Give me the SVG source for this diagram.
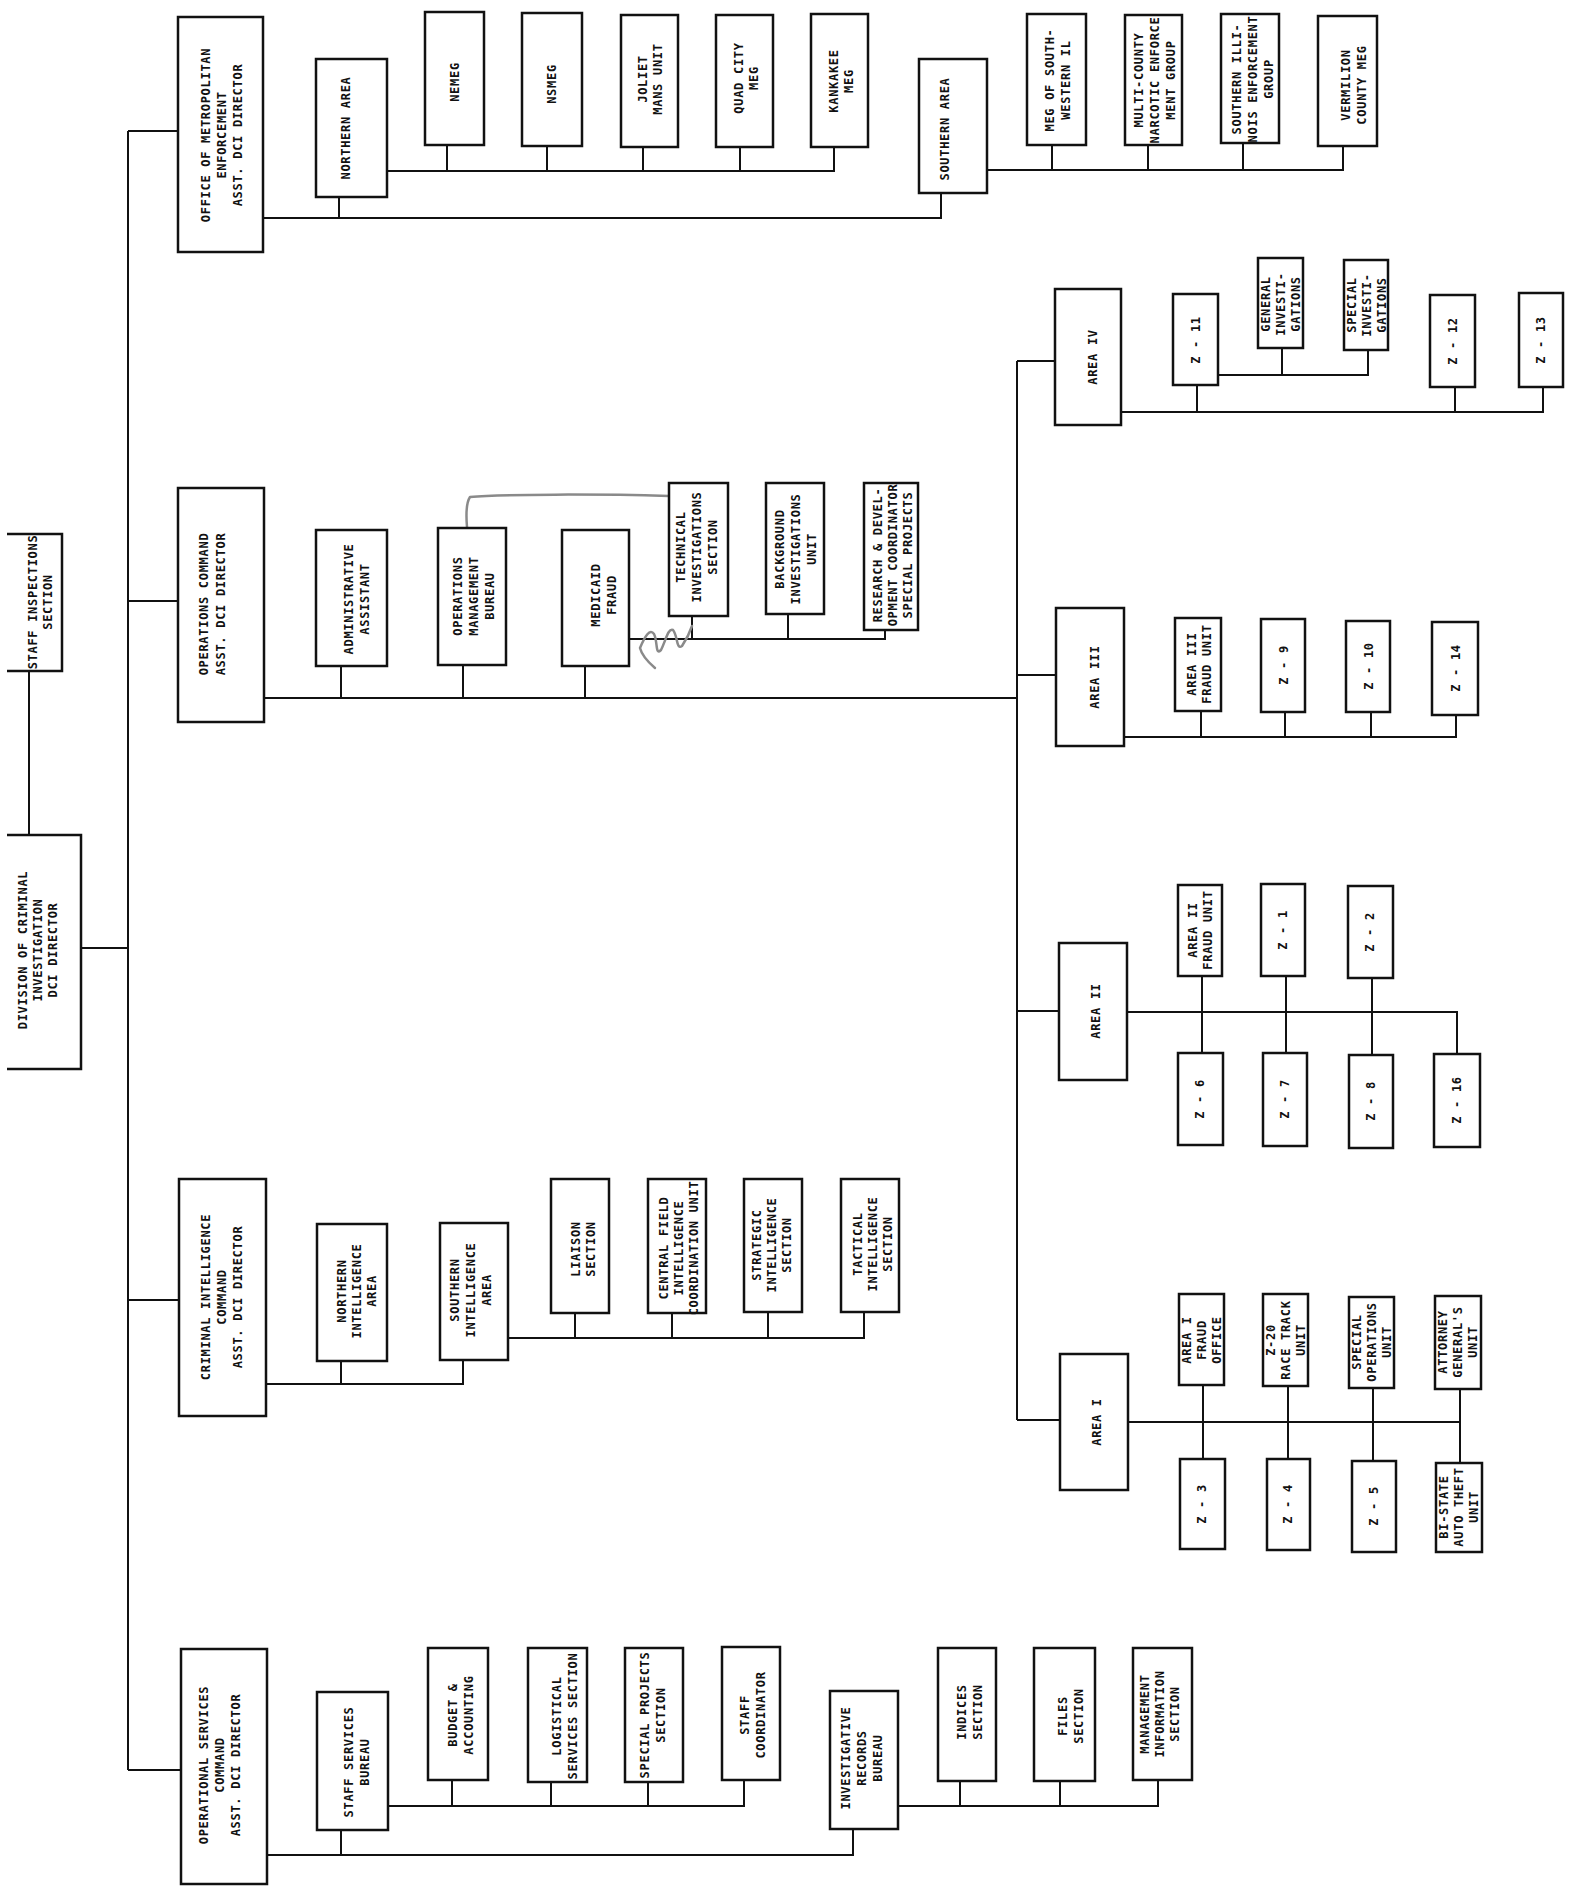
<svg xmlns="http://www.w3.org/2000/svg" width="1575" height="1892" viewBox="0 0 1575 1892">
<style>
.b{fill:#fff;stroke:#111;stroke-width:2.5}
.o{fill:none;stroke:#111;stroke-width:2.5}
.c{fill:none;stroke:#111;stroke-width:2}
.g{fill:none;stroke:#8a8a8a;stroke-width:2.5;stroke-linecap:round;stroke-linejoin:round}
.t{font-family:"DejaVu Sans Mono","Liberation Mono",monospace;font-size:12px;font-weight:bold;letter-spacing:0.7px;text-anchor:middle;fill:#111}
</style>
<rect x="0" y="0" width="1575" height="1892" fill="#fff"/>

<g id="connectors">
<path class="c" d="M128,131 V1770 M128,131 H178 M128,601 H178 M128,1300 H179 M128,1770 H181 M81,948 H128 M29,671 V835"/>
<path class="c" d="M263,218 H941 V193 M339,218 V197"/>
<path class="c" d="M387,171 H834 V147 M447,171 V145 M547,171 V146 M643,171 V147 M740,171 V147"/>
<path class="c" d="M987,170 H1343 V146 M1052,170 V145 M1148,170 V145 M1243,170 V143"/>
<path class="c" d="M264,698 H1017 M341,698 V666 M463,698 V665 M585,698 V666"/>
<path class="c" d="M629,639 H885 V630 M692,639 V616 M788,639 V614"/>
<path class="c" d="M1017,361 V1420 M1017,361 H1055 M1017,675 H1056 M1017,1011 H1059 M1017,1420 H1060"/>
<path class="c" d="M1218,375 H1368 V350 M1282,375 V348"/>
<path class="c" d="M1121,412 H1543 V387 M1197,412 V385 M1455,412 V387"/>
<path class="c" d="M1124,737 H1456 V715 M1201,737 V711 M1285,737 V712 M1371,737 V712"/>
<path class="c" d="M1127,1012 H1457 V1054 M1202,976 V1053 M1286,976 V1053 M1372,978 V1055"/>
<path class="c" d="M1128,1422 H1460 M1203,1385 V1459 M1288,1386 V1459 M1373,1388 V1461 M1460,1389 V1463"/>
<path class="c" d="M266,1384 H463 V1360 M341,1384 V1361"/>
<path class="c" d="M508,1338 H864 V1312 M575,1338 V1313 M672,1338 V1313 M768,1338 V1312"/>
<path class="c" d="M267,1855 H853 V1829 M341,1855 V1830"/>
<path class="c" d="M388,1806 H744 V1780 M452,1806 V1780 M551,1806 V1782 M648,1806 V1782"/>
<path class="c" d="M898,1806 H1158 V1780 M960,1806 V1781 M1060,1806 V1781"/>
<path class="g" d="M467,527 C466,515 466,503 470,497 C500,494 600,494 669,496"/>
<path class="g" d="M655,668 C648,662 642,656 640,648 C645,636 650,628 654,634 C658,642 655,656 661,650 C666,640 668,628 673,630 C678,636 676,650 682,646 C686,640 690,632 692,626"/>
</g>

<g id="staff_inspections"><path class="o" d="M7,534 H62 V671 H7"/><text class="t" transform="translate(40,602) rotate(-90)"><tspan x="0" y="-3.1">STAFF INSPECTIONS</tspan><tspan x="0" y="11.9">SECTION</tspan></text></g>
<g id="division"><path class="o" d="M7,835 H81 V1069 H7"/><text class="t" transform="translate(38,950) rotate(-90)"><tspan x="0" y="-10.6">DIVISION OF CRIMINAL</tspan><tspan x="0" y="4.4">INVESTIGATION</tspan><tspan x="0" y="19.4">DCI DIRECTOR</tspan></text></g>

<g id="office_metro"><rect class="b" x="178" y="17" width="85" height="235"/><text class="t" transform="translate(222,135) rotate(-90)"><tspan x="0" y="-11.6">OFFICE OF METROPOLITAN</tspan><tspan x="0" y="4.4">ENFORCEMENT</tspan><tspan x="0" y="20.4">ASST. DCI DIRECTOR</tspan></text></g>
<g id="northern_area"><rect class="b" x="316" y="59" width="71" height="138"/><text class="t" transform="translate(346,128) rotate(-90)"><tspan x="0" y="4.4">NORTHERN AREA</tspan></text></g>
<g id="nemeg"><rect class="b" x="425" y="12" width="59" height="133"/><text class="t" transform="translate(455,82) rotate(-90)"><tspan x="0" y="4.4">NEMEG</tspan></text></g>
<g id="nsmeg"><rect class="b" x="522" y="13" width="60" height="133"/><text class="t" transform="translate(552,84) rotate(-90)"><tspan x="0" y="4.4">NSMEG</tspan></text></g>
<g id="joliet"><rect class="b" x="621" y="15" width="57" height="132"/><text class="t" transform="translate(650,79) rotate(-90)"><tspan x="0" y="-3.1">JOLIET</tspan><tspan x="0" y="11.9">MANS UNIT</tspan></text></g>
<g id="quad_city"><rect class="b" x="716" y="15" width="57" height="132"/><text class="t" transform="translate(746,78) rotate(-90)"><tspan x="0" y="-3.1">QUAD CITY</tspan><tspan x="0" y="11.9">MEG</tspan></text></g>
<g id="kankakee"><rect class="b" x="811" y="14" width="57" height="133"/><text class="t" transform="translate(841,81) rotate(-90)"><tspan x="0" y="-3.1">KANKAKEE</tspan><tspan x="0" y="11.9">MEG</tspan></text></g>
<g id="southern_area"><rect class="b" x="919" y="59" width="68" height="134"/><text class="t" transform="translate(945,129) rotate(-90)"><tspan x="0" y="4.4">SOUTHERN AREA</tspan></text></g>
<g id="meg_sw"><rect class="b" x="1027" y="14" width="59" height="131"/><text class="t" transform="translate(1058,80) rotate(-90)"><tspan x="0" y="-3.6">MEG OF SOUTH-</tspan><tspan x="0" y="12.4">WESTERN IL</tspan></text></g>
<g id="multi_county"><rect class="b" x="1125" y="15" width="57" height="130"/><text class="t" transform="translate(1155,80) rotate(-90)"><tspan x="0" y="-11.6">MULTI-COUNTY</tspan><tspan x="0" y="4.4">NARCOTIC ENFORCE</tspan><tspan x="0" y="20.4">MENT GROUP</tspan></text></g>
<g id="southern_illinois"><rect class="b" x="1221" y="14" width="58" height="129"/><text class="t" transform="translate(1253,79) rotate(-90)"><tspan x="0" y="-11.6">SOUTHERN ILLI-</tspan><tspan x="0" y="4.4">NOIS ENFORCEMENT</tspan><tspan x="0" y="20.4">GROUP</tspan></text></g>
<g id="vermilion"><rect class="b" x="1318" y="16" width="59" height="130"/><text class="t" transform="translate(1354,85) rotate(-90)"><tspan x="0" y="-3.6">VERMILION</tspan><tspan x="0" y="12.4">COUNTY MEG</tspan></text></g>

<g id="operations_command"><rect class="b" x="178" y="488" width="86" height="234"/><text class="t" transform="translate(212,604) rotate(-90)"><tspan x="0" y="-4.1">OPERATIONS COMMAND</tspan><tspan x="0" y="12.9">ASST. DCI DIRECTOR</tspan></text></g>
<g id="admin_assistant"><rect class="b" x="316" y="530" width="71" height="136"/><text class="t" transform="translate(357,599) rotate(-90)"><tspan x="0" y="-3.6">ADMINISTRATIVE</tspan><tspan x="0" y="12.4">ASSISTANT</tspan></text></g>
<g id="ops_mgmt"><rect class="b" x="438" y="528" width="68" height="137"/><text class="t" transform="translate(474,596) rotate(-90)"><tspan x="0" y="-11.6">OPERATIONS</tspan><tspan x="0" y="4.4">MANAGEMENT</tspan><tspan x="0" y="20.4">BUREAU</tspan></text></g>
<g id="medicaid"><rect class="b" x="562" y="530" width="67" height="136"/><text class="t" transform="translate(604,595) rotate(-90)"><tspan x="0" y="-3.6">MEDICAID</tspan><tspan x="0" y="12.4">FRAUD</tspan></text></g>
<g id="technical"><rect class="b" x="669" y="483" width="59" height="133"/><text class="t" transform="translate(697,547) rotate(-90)"><tspan x="0" y="-11.6">TECHNICAL</tspan><tspan x="0" y="4.4">INVESTIGATIONS</tspan><tspan x="0" y="20.4">SECTION</tspan></text></g>
<g id="background"><rect class="b" x="766" y="483" width="58" height="131"/><text class="t" transform="translate(796,549) rotate(-90)"><tspan x="0" y="-11.6">BACKGROUND</tspan><tspan x="0" y="4.4">INVESTIGATIONS</tspan><tspan x="0" y="20.4">UNIT</tspan></text></g>
<g id="research"><rect class="b" x="864" y="483" width="54" height="147"/><text class="t" transform="translate(893,555) rotate(-90)"><tspan x="0" y="-10.6">RESEARCH &amp; DEVEL-</tspan><tspan x="0" y="4.4">OPMENT COORDINATOR</tspan><tspan x="0" y="19.4">SPECIAL PROJECTS</tspan></text></g>

<g id="area_iv"><rect class="b" x="1055" y="289" width="66" height="136"/><text class="t" transform="translate(1093,357) rotate(-90)"><tspan x="0" y="4.4">AREA IV</tspan></text></g>
<g id="z11"><rect class="b" x="1173" y="294" width="45" height="91"/><text class="t" transform="translate(1196,340) rotate(-90)"><tspan x="0" y="4.4">Z - 11</tspan></text></g>
<g id="general_inv"><rect class="b" x="1258" y="258" width="45" height="90"/><text class="t" transform="translate(1281,304) rotate(-90)"><tspan x="0" y="-10.6">GENERAL</tspan><tspan x="0" y="4.4">INVESTI-</tspan><tspan x="0" y="19.4">GATIONS</tspan></text></g>
<g id="special_inv"><rect class="b" x="1344" y="260" width="44" height="90"/><text class="t" transform="translate(1367,305) rotate(-90)"><tspan x="0" y="-10.6">SPECIAL</tspan><tspan x="0" y="4.4">INVESTI-</tspan><tspan x="0" y="19.4">GATIONS</tspan></text></g>
<g id="z12"><rect class="b" x="1430" y="295" width="45" height="92"/><text class="t" transform="translate(1453,341) rotate(-90)"><tspan x="0" y="4.4">Z - 12</tspan></text></g>
<g id="z13"><rect class="b" x="1519" y="293" width="44" height="94"/><text class="t" transform="translate(1541,340) rotate(-90)"><tspan x="0" y="4.4">Z - 13</tspan></text></g>

<g id="area_iii"><rect class="b" x="1056" y="608" width="68" height="138"/><text class="t" transform="translate(1095,677) rotate(-90)"><tspan x="0" y="4.4">AREA III</tspan></text></g>
<g id="area_iii_fraud"><rect class="b" x="1175" y="618" width="46" height="93"/><text class="t" transform="translate(1199,664) rotate(-90)"><tspan x="0" y="-3.1">AREA III</tspan><tspan x="0" y="11.9">FRAUD UNIT</tspan></text></g>
<g id="z9"><rect class="b" x="1261" y="619" width="44" height="93"/><text class="t" transform="translate(1284,665) rotate(-90)"><tspan x="0" y="4.4">Z - 9</tspan></text></g>
<g id="z10"><rect class="b" x="1346" y="621" width="44" height="91"/><text class="t" transform="translate(1369,666) rotate(-90)"><tspan x="0" y="4.4">Z - 10</tspan></text></g>
<g id="z14"><rect class="b" x="1432" y="622" width="46" height="93"/><text class="t" transform="translate(1456,668) rotate(-90)"><tspan x="0" y="4.4">Z - 14</tspan></text></g>

<g id="area_ii"><rect class="b" x="1059" y="943" width="68" height="137"/><text class="t" transform="translate(1096,1011) rotate(-90)"><tspan x="0" y="4.4">AREA II</tspan></text></g>
<g id="area_ii_fraud"><rect class="b" x="1178" y="885" width="44" height="91"/><text class="t" transform="translate(1200,930) rotate(-90)"><tspan x="0" y="-3.1">AREA II</tspan><tspan x="0" y="11.9">FRAUD UNIT</tspan></text></g>
<g id="z1"><rect class="b" x="1261" y="884" width="44" height="92"/><text class="t" transform="translate(1283,930) rotate(-90)"><tspan x="0" y="4.4">Z - 1</tspan></text></g>
<g id="z2"><rect class="b" x="1348" y="886" width="45" height="92"/><text class="t" transform="translate(1370,932) rotate(-90)"><tspan x="0" y="4.4">Z - 2</tspan></text></g>
<g id="z6"><rect class="b" x="1178" y="1053" width="45" height="92"/><text class="t" transform="translate(1200,1099) rotate(-90)"><tspan x="0" y="4.4">Z - 6</tspan></text></g>
<g id="z7"><rect class="b" x="1263" y="1053" width="44" height="93"/><text class="t" transform="translate(1285,1099) rotate(-90)"><tspan x="0" y="4.4">Z - 7</tspan></text></g>
<g id="z8"><rect class="b" x="1349" y="1055" width="44" height="93"/><text class="t" transform="translate(1371,1101) rotate(-90)"><tspan x="0" y="4.4">Z - 8</tspan></text></g>
<g id="z16"><rect class="b" x="1434" y="1054" width="46" height="93"/><text class="t" transform="translate(1457,1100) rotate(-90)"><tspan x="0" y="4.4">Z - 16</tspan></text></g>

<g id="area_i"><rect class="b" x="1060" y="1354" width="68" height="136"/><text class="t" transform="translate(1097,1422) rotate(-90)"><tspan x="0" y="4.4">AREA I</tspan></text></g>
<g id="area_i_fraud"><rect class="b" x="1179" y="1294" width="45" height="91"/><text class="t" transform="translate(1202,1340) rotate(-90)"><tspan x="0" y="-10.6">AREA I</tspan><tspan x="0" y="4.4">FRAUD</tspan><tspan x="0" y="19.4">OFFICE</tspan></text></g>
<g id="z20"><rect class="b" x="1263" y="1294" width="45" height="92"/><text class="t" transform="translate(1286,1340) rotate(-90)"><tspan x="0" y="-10.6">Z-20</tspan><tspan x="0" y="4.4">RACE TRACK</tspan><tspan x="0" y="19.4">UNIT</tspan></text></g>
<g id="special_ops"><rect class="b" x="1349" y="1297" width="45" height="91"/><text class="t" transform="translate(1372,1342) rotate(-90)"><tspan x="0" y="-10.6">SPECIAL</tspan><tspan x="0" y="4.4">OPERATIONS</tspan><tspan x="0" y="19.4">UNIT</tspan></text></g>
<g id="attorney_general"><rect class="b" x="1435" y="1296" width="46" height="93"/><text class="t" transform="translate(1458,1342) rotate(-90)"><tspan x="0" y="-10.6">ATTORNEY</tspan><tspan x="0" y="4.4">GENERAL'S</tspan><tspan x="0" y="19.4">UNIT</tspan></text></g>
<g id="z3"><rect class="b" x="1180" y="1459" width="45" height="90"/><text class="t" transform="translate(1202,1504) rotate(-90)"><tspan x="0" y="4.4">Z - 3</tspan></text></g>
<g id="z4"><rect class="b" x="1267" y="1459" width="43" height="91"/><text class="t" transform="translate(1288,1504) rotate(-90)"><tspan x="0" y="4.4">Z - 4</tspan></text></g>
<g id="z5"><rect class="b" x="1352" y="1461" width="44" height="91"/><text class="t" transform="translate(1374,1506) rotate(-90)"><tspan x="0" y="4.4">Z - 5</tspan></text></g>
<g id="bi_state"><rect class="b" x="1436" y="1463" width="46" height="89"/><text class="t" transform="translate(1459,1507) rotate(-90)"><tspan x="0" y="-10.6">BI-STATE</tspan><tspan x="0" y="4.4">AUTO THEFT</tspan><tspan x="0" y="19.4">UNIT</tspan></text></g>

<g id="criminal_intel"><rect class="b" x="179" y="1179" width="87" height="237"/><text class="t" transform="translate(222,1297) rotate(-90)"><tspan x="0" y="-11.6">CRIMINAL INTELLIGENCE</tspan><tspan x="0" y="4.4">COMMAND</tspan><tspan x="0" y="20.4">ASST. DCI DIRECTOR</tspan></text></g>
<g id="northern_intel"><rect class="b" x="317" y="1224" width="70" height="137"/><text class="t" transform="translate(357,1291) rotate(-90)"><tspan x="0" y="-10.6">NORTHERN</tspan><tspan x="0" y="4.4">INTELLIGENCE</tspan><tspan x="0" y="19.4">AREA</tspan></text></g>
<g id="southern_intel"><rect class="b" x="440" y="1223" width="68" height="137"/><text class="t" transform="translate(471,1290) rotate(-90)"><tspan x="0" y="-11.6">SOUTHERN</tspan><tspan x="0" y="4.4">INTELLIGENCE</tspan><tspan x="0" y="20.4">AREA</tspan></text></g>
<g id="liaison"><rect class="b" x="551" y="1179" width="58" height="134"/><text class="t" transform="translate(583,1249) rotate(-90)"><tspan x="0" y="-3.1">LIAISON</tspan><tspan x="0" y="11.9">SECTION</tspan></text></g>
<g id="central_field"><rect class="b" x="648" y="1179" width="58" height="134"/><text class="t" transform="translate(679,1248) rotate(-90)"><tspan x="0" y="-10.6">CENTRAL FIELD</tspan><tspan x="0" y="4.4">INTELLIGENCE</tspan><tspan x="0" y="19.4">COORDINATION UNIT</tspan></text></g>
<g id="strategic"><rect class="b" x="744" y="1179" width="58" height="133"/><text class="t" transform="translate(772,1245) rotate(-90)"><tspan x="0" y="-10.6">STRATEGIC</tspan><tspan x="0" y="4.4">INTELLIGENCE</tspan><tspan x="0" y="19.4">SECTION</tspan></text></g>
<g id="tactical"><rect class="b" x="841" y="1179" width="58" height="133"/><text class="t" transform="translate(873,1244) rotate(-90)"><tspan x="0" y="-10.6">TACTICAL</tspan><tspan x="0" y="4.4">INTELLIGENCE</tspan><tspan x="0" y="19.4">SECTION</tspan></text></g>

<g id="operational_services"><rect class="b" x="181" y="1649" width="86" height="235"/><text class="t" transform="translate(220,1765) rotate(-90)"><tspan x="0" y="-11.6">OPERATIONAL SERVICES</tspan><tspan x="0" y="4.4">COMMAND</tspan><tspan x="0" y="20.4">ASST. DCI DIRECTOR</tspan></text></g>
<g id="staff_services"><rect class="b" x="317" y="1692" width="71" height="138"/><text class="t" transform="translate(357,1762) rotate(-90)"><tspan x="0" y="-3.6">STAFF SERVICES</tspan><tspan x="0" y="12.4">BUREAU</tspan></text></g>
<g id="budget"><rect class="b" x="428" y="1648" width="60" height="132"/><text class="t" transform="translate(461,1715) rotate(-90)"><tspan x="0" y="-3.6">BUDGET &amp;</tspan><tspan x="0" y="12.4">ACCOUNTING</tspan></text></g>
<g id="logistical"><rect class="b" x="528" y="1648" width="59" height="134"/><text class="t" transform="translate(565,1716) rotate(-90)"><tspan x="0" y="-3.6">LOGISTICAL</tspan><tspan x="0" y="12.4">SERVICES SECTION</tspan></text></g>
<g id="special_projects"><rect class="b" x="625" y="1648" width="58" height="134"/><text class="t" transform="translate(653,1715) rotate(-90)"><tspan x="0" y="-3.6">SPECIAL PROJECTS</tspan><tspan x="0" y="12.4">SECTION</tspan></text></g>
<g id="staff_coordinator"><rect class="b" x="722" y="1647" width="58" height="133"/><text class="t" transform="translate(753,1715) rotate(-90)"><tspan x="0" y="-3.6">STAFF</tspan><tspan x="0" y="12.4">COORDINATOR</tspan></text></g>
<g id="investigative_records"><rect class="b" x="830" y="1691" width="68" height="138"/><text class="t" transform="translate(862,1758) rotate(-90)"><tspan x="0" y="-11.6">INVESTIGATIVE</tspan><tspan x="0" y="4.4">RECORDS</tspan><tspan x="0" y="20.4">BUREAU</tspan></text></g>
<g id="indices"><rect class="b" x="938" y="1648" width="58" height="133"/><text class="t" transform="translate(970,1712) rotate(-90)"><tspan x="0" y="-3.6">INDICES</tspan><tspan x="0" y="12.4">SECTION</tspan></text></g>
<g id="files"><rect class="b" x="1034" y="1648" width="61" height="133"/><text class="t" transform="translate(1071,1716) rotate(-90)"><tspan x="0" y="-3.6">FILES</tspan><tspan x="0" y="12.4">SECTION</tspan></text></g>
<g id="mis"><rect class="b" x="1133" y="1648" width="59" height="132"/><text class="t" transform="translate(1160,1714) rotate(-90)"><tspan x="0" y="-10.6">MANAGEMENT</tspan><tspan x="0" y="4.4">INFORMATION</tspan><tspan x="0" y="19.4">SECTION</tspan></text></g>
</svg>
